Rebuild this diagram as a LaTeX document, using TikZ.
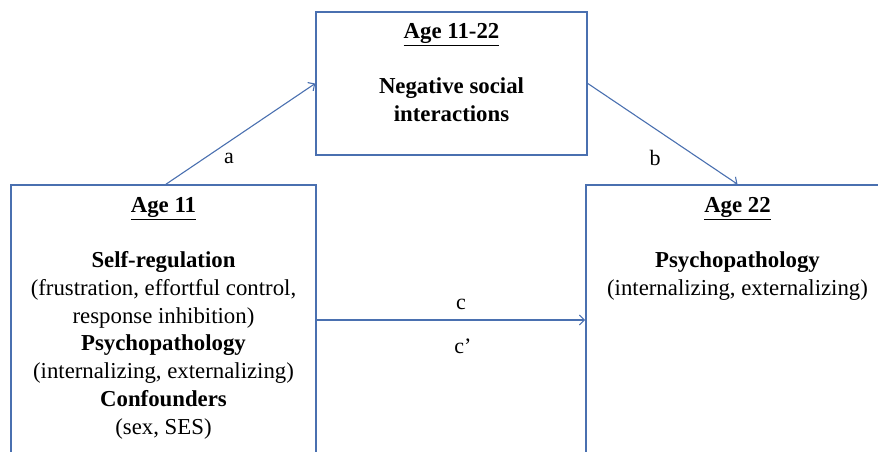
\documentclass[tikz,border=0pt]{standalone}
\usepackage{fontspec}
\setmainfont{Liberation Serif}
\usepackage{tikz}
\usetikzlibrary{positioning,arrows.meta}
\definecolor{boxblue}{RGB}{74,112,176}

\tikzset{
  box/.style={draw=boxblue, line width=1.6pt, rectangle, inner sep=0pt},
  boxtext/.style={anchor=north, align=center, inner sep=0pt,
    font=\fontsize{22.8}{27.7}\selectfont},
  path/.style={draw=boxblue, line width=1.1pt,
    -{Straight Barb[length=5pt, width=10pt]}},
  pathlabel/.style={font=\fontsize{22}{26}\selectfont, inner sep=1pt}
}

\begin{document}
\begin{tikzpicture}[x=1pt, y=-1pt]
    \useasboundingbox (0, 0) rectangle (878, 452);
    % boxes
    \node [box, minimum width=305pt, minimum height=270pt] (age11) at (163.5, 320) {};
    \node [box, minimum width=271pt, minimum height=143pt] (mid) at (451.5, 83.5) {};
    \node [box, minimum width=303pt, minimum height=270pt] (age22) at (737.5, 320) {};
    % box texts
    \node [boxtext, below=13pt of age11.north] (t11)
      {\textbf{\underline{Age 11}}\\[27.7pt]
       \textbf{Self-regulation}\\
       (frustration, effortful control,\\
       response inhibition)\\
       \textbf{Psychopathology}\\
       (internalizing,\ externalizing)\\
       \textbf{Confounders}\\
       (sex, SES)};
    \node [boxtext, below=12pt of mid.north] (tmid)
      {\textbf{\underline{Age 11-22}}\\[27.7pt]
       \textbf{Negative social}\\
       \textbf{interactions}};
    \node [boxtext, below=13pt of age22.north] (t22)
      {\textbf{\underline{Age 22}}\\[27.7pt]
       \textbf{Psychopathology}\\
       (internalizing,\ externalizing)};
    % paths
    \draw [path] ([xshift=2.5pt]age11.north) -- (mid.west);
    \draw [path] (mid.east) -- (age22.north);
    \draw [path] (age11.east) -- (age22.west);
    \node [pathlabel] (la) at (229, 158) {a};
    \node [pathlabel] (lb) at (655, 158) {b};
    \node [pathlabel] (lc) at (461, 304) {c};
    \node [pathlabel] (lc2) at (463, 346) {c’};
\end{tikzpicture}
\end{document}
